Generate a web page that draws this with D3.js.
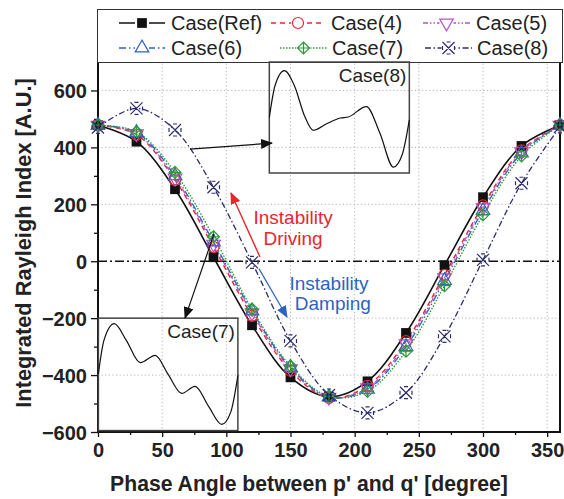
<!DOCTYPE html>
<html>
<head>
<meta charset="utf-8">
<script src="https://cdn.jsdelivr.net/npm/d3@7"></script>
<style>
  body { margin: 0; background: #fff; }
  svg { display: block; font-family: "Liberation Sans", Arial, sans-serif; }
</style>
</head>
<body>
<div id="graf"></div>
<script>
// datos
const angles = [0, 30, 60, 90, 120, 150, 180, 210, 240, 270, 300, 330, 360];
const caseRef = [478, 420, 253, 14, -225, -408, -476, -422, -252, -14, 225, 405, 478];
const case4 = [478, 445, 285, 50, -192, -385, -480, -438, -281, -48, 196, 390, 478];
const case5 = [478, 448, 292, 60, -182, -378, -478, -445, -290, -58, 188, 385, 478];
const case6 = [478, 452, 300, 68, -175, -373, -477, -450, -300, -68, 178, 380, 478];
const case7 = [478, 455, 312, 86, -168, -368, -475, -457, -316, -86, 163, 370, 478];
const case8 = [470, 537, 461, 260, -4, -280, -470, -533, -462, -264, 5, 274, 472];
const seriesNames = ["Case(Ref)", "Case(4)", "Case(5)", "Case(6)", "Case(7)", "Case(8)"];

const xTicks = [0, 50, 100, 150, 200, 250, 300, 350];
const xMinor = [25, 75, 125, 175, 225, 275, 325];
const yTicks = [-600, -400, -200, 0, 200, 400, 600];
const yMinor = [-500, -300, -100, 100, 300, 500];

// curvas de los recuadros (normalizadas 0..1)
const inset8X = [0, 0.04, 0.107, 0.18, 0.25, 0.314, 0.41, 0.507, 0.564, 0.693, 0.79, 0.886, 0.95, 1];
const inset8Y = [0.50, 0.80, 0.946, 0.80, 0.52, 0.378, 0.44, 0.495, 0.505, 0.604, 0.35, 0.027, 0.15, 0.477];
const inset7X = [0, 0.04, 0.114, 0.2, 0.3, 0.407, 0.5, 0.598, 0.693, 0.79, 0.884, 0.95, 1];
const inset7Y = [0.506, 0.82, 0.976, 0.82, 0.61, 0.679, 0.50, 0.321, 0.387, 0.2, 0.03, 0.15, 0.49];

const W = 564, H = 499;
const margin = { top: 62, right: 4, bottom: 67, left: 98 };

const svg = d3.select("#graf").append("svg").attr("width", W).attr("height", H);

const x = d3.scaleLinear().domain([0, 360]).range([margin.left, W - margin.right]);
const y = d3.scaleLinear().domain([-600, 700]).range([H - margin.bottom, margin.top]);

// rejilla punteada
const grid = svg.append("g").attr("stroke", "#b4b4b4").attr("stroke-width", 1).attr("stroke-dasharray", "1.2,2.4");
grid.selectAll("line.gx").data(xTicks.filter(d => d > 0)).join("line")
  .attr("x1", d => x(d)).attr("x2", d => x(d)).attr("y1", y(-600)).attr("y2", y(700));
grid.selectAll("line.gy").data(yTicks.filter(d => d > -600 && d !== 0)).join("line")
  .attr("x1", x(0)).attr("x2", x(360)).attr("y1", d => y(d)).attr("y2", d => y(d));

// linea de cero
svg.append("line")
  .attr("x1", x(0)).attr("x2", x(360)).attr("y1", y(0)).attr("y2", y(0))
  .attr("stroke", "#111").attr("stroke-width", 1.5).attr("stroke-dasharray", "9,3,2,3");

// ejes
const xAxis = svg.append("g").attr("transform", `translate(0,${y(-600)})`)
  .call(d3.axisBottom(x).tickValues(xTicks).tickSize(5).tickSizeOuter(0).tickPadding(4));
svg.append("g").attr("transform", `translate(0,${y(-600)})`)
  .call(d3.axisBottom(x).tickValues(xMinor).tickSize(3).tickFormat("").tickSizeOuter(0));
const yAxis = svg.append("g").attr("transform", `translate(${x(0)},0)`)
  .call(d3.axisLeft(y).tickValues(yTicks).tickSize(7).tickSizeOuter(0).tickPadding(4));
svg.append("g").attr("transform", `translate(${x(0)},0)`)
  .call(d3.axisLeft(y).tickValues(yMinor).tickSize(4).tickFormat("").tickSizeOuter(0));
svg.selectAll(".domain").remove();
svg.selectAll(".tick line").attr("stroke", "#111").attr("stroke-width", 1.3);
svg.selectAll(".tick text").attr("font-size", 20).attr("font-weight", "bold")
  .attr("fill", "#222").attr("font-family", "'Liberation Sans', Arial, sans-serif");
xAxis.selectAll(".tick text").attr("dy", "0.82em");
yAxis.selectAll(".tick text").attr("dy", "0.36em");

// marco
svg.append("rect")
  .attr("x", x(0)).attr("y", y(700)).attr("width", x(360) - x(0)).attr("height", y(-600) - y(700))
  .attr("fill", "none").attr("stroke", "#111").attr("stroke-width", 2);

// titulos de ejes
svg.append("text").attr("x", 309).attr("y", 491).attr("text-anchor", "middle")
  .attr("font-size", 21.2).attr("font-weight", "bold").attr("fill", "#222")
  .text("Phase Angle between p' and q' [degree]");
svg.append("text").attr("transform", "translate(31,243) rotate(-90)").attr("text-anchor", "middle")
  .attr("font-size", 21.8).attr("font-weight", "bold").attr("fill", "#222")
  .text("Integrated Rayleigh Index [A.U.]");

// estilos de las series
const styles = [
  { values: caseRef, color: "#111111", dash: null, width: 1.6, marker: "square" },
  { values: case4, color: "#e8262d", dash: "5,4", width: 1.4, marker: "circle" },
  { values: case5, color: "#b454c4", dash: "5,2,1.5,2,1.5,2", width: 1.3, marker: "down" },
  { values: case6, color: "#2d63c0", dash: "7,3,1.5,3", width: 1.3, marker: "up" },
  { values: case7, color: "#2f9a3a", dash: "1.5,1.5", width: 1.4, marker: "diamond" },
  { values: case8, color: "#2c2c70", dash: "6,2.5,1.5,2.5", width: 1.3, marker: "star" }
];

const drawMarker = (g, type, color) => {
  if (type === "square") {
    g.append("path").attr("d", d3.symbol(d3.symbolSquare, 95)()).attr("fill", color);
  } else if (type === "circle") {
    g.append("circle").attr("r", 5.5).attr("fill", "none").attr("stroke", color).attr("stroke-width", 1.2);
  } else if (type === "down") {
    g.append("path").attr("d", d3.symbol(d3.symbolTriangle, 80)()).attr("transform", "rotate(180)")
      .attr("fill", "none").attr("stroke", color).attr("stroke-width", 1.2);
  } else if (type === "up") {
    g.append("path").attr("d", d3.symbol(d3.symbolTriangle, 80)())
      .attr("fill", "none").attr("stroke", color).attr("stroke-width", 1.2);
  } else if (type === "diamond") {
    g.append("path").attr("d", "M0,-6L6,0L0,6L-6,0Z M0,-6L0,6 M-6,0L6,0")
      .attr("fill", "none").attr("stroke", color).attr("stroke-width", 1.2);
  } else if (type === "star") {
    g.append("path").attr("d", "M-6,-6L6,6 M-6,6L6,-6 M-2,-6L2,-6 M-2,6L2,6 M-6,-2L-6,2 M6,-2L6,2")
      .attr("fill", "none").attr("stroke", color).attr("stroke-width", 1.2);
  }
};

const line = d3.line().x((d, i) => x(angles[i])).y(d => y(d)).curve(d3.curveCatmullRom.alpha(0.5));

styles.forEach((s) => {
  svg.append("path").datum(s.values).attr("d", line)
    .attr("fill", "none").attr("stroke", s.color).attr("stroke-width", s.width)
    .attr("stroke-dasharray", s.dash);
});
styles.forEach((s) => {
  svg.append("g").selectAll("g").data(s.values).join("g")
    .attr("transform", (d, i) => `translate(${x(angles[i])},${y(d)})`)
    .each(function () { drawMarker(d3.select(this), s.marker, s.color); });
});

// leyenda
svg.append("rect").attr("x", 97.5).attr("y", 9.5).attr("width", 465).attr("height", 53)
  .attr("fill", "#fff").attr("stroke", "#333").attr("stroke-width", 1);
const legendPos = [
  { lx: 119, len: 46, tx: 171, ty: 30 },
  { lx: 271, len: 54, tx: 331, ty: 30 },
  { lx: 423, len: 47, tx: 476, ty: 30 },
  { lx: 119, len: 46, tx: 171, ty: 55 },
  { lx: 280, len: 47, tx: 332, ty: 55 },
  { lx: 425, len: 47, tx: 477, ty: 55 }
];
styles.forEach((s, i) => {
  const p = legendPos[i];
  const gy = p.ty - 7;
  svg.append("line").attr("x1", p.lx).attr("x2", p.lx + p.len).attr("y1", gy).attr("y2", gy)
    .attr("stroke", s.color).attr("stroke-width", s.width).attr("stroke-dasharray", s.dash);
  const g = svg.append("g").attr("transform", `translate(${p.lx + p.len / 2},${gy})`);
  g.append("rect").attr("x", -7).attr("y", -7).attr("width", 14).attr("height", 14).attr("fill", "#fff");
  drawMarker(g, s.marker, s.color);
  svg.append("text").attr("x", p.tx).attr("y", p.ty).attr("font-size", 20).attr("fill", "#222")
    .text(seriesNames[i]);
});

// recuadros con las curvas de Case(8) y Case(7)
const insets = [
  { xs: inset8X, ys: inset8Y, x0: 133.5, x1: 242.6, y0: 310, y1: 700, label: "Case(8)" },
  { xs: inset7X, ys: inset7Y, x0: 0.3, x1: 109, y0: -595, y1: -200, label: "Case(7)" }
];
insets.forEach((b) => {
  const ix = d3.scaleLinear().domain([0, 1]).range([x(b.x0), x(b.x1)]);
  const iy = d3.scaleLinear().domain([0, 1]).range([y(b.y0) - 3, y(b.y1) + 3]);
  svg.append("rect").attr("x", x(b.x0)).attr("y", y(b.y1)).attr("width", x(b.x1) - x(b.x0))
    .attr("height", y(b.y0) - y(b.y1)).attr("fill", "none").attr("stroke", "#444").attr("stroke-width", 1.5);
  svg.append("path").datum(b.ys)
    .attr("d", d3.line().x((d, i) => ix(b.xs[i])).y(d => iy(d)).curve(d3.curveMonotoneX))
    .attr("fill", "none").attr("stroke", "#111").attr("stroke-width", 1.2);
  svg.append("text").attr("x", x(b.x1) - 3).attr("y", y(b.y1) + 20).attr("text-anchor", "end")
    .attr("font-size", 19).attr("fill", "#222").text(b.label);
});

// flechas
const defs = svg.append("defs");
const mk = (id, color) => defs.append("marker").attr("id", id).attr("viewBox", "0 0 12 10")
  .attr("refX", 11).attr("refY", 5).attr("markerWidth", 12).attr("markerHeight", 10)
  .attr("markerUnits", "userSpaceOnUse").attr("orient", "auto")
  .append("path").attr("d", "M0,0L12,5L0,10Z").attr("fill", color);
mk("ab", "#111"); mk("ar", "#e8262d"); mk("au", "#2d63c0");

const arrows = [
  { a: [71.7, 394], b: [135.6, 415], color: "#111", m: "ab", w: 1.2 },
  { a: [90.4, 96], b: [67.8, -200], color: "#111", m: "ab", w: 1.2 },
  { a: [126.2, 15], b: [103.6, 240], color: "#e8262d", m: "ar", w: 1.4 },
  { a: [125.5, -27], b: [147.3, -196], color: "#2d63c0", m: "au", w: 1.2 }
];
arrows.forEach((d) => {
  svg.append("line").attr("x1", x(d.a[0])).attr("y1", y(d.a[1])).attr("x2", x(d.b[0])).attr("y2", y(d.b[1]))
    .attr("stroke", d.color).attr("stroke-width", d.w).attr("marker-end", `url(#${d.m})`);
});

// anotaciones
const notes = [
  { t: "Instability", ang: 152, val: 130, color: "#e8262d" },
  { t: "Driving", ang: 152, val: 57, color: "#e8262d" },
  { t: "Instability", ang: 180, val: -100, color: "#2d63c0" },
  { t: "Damping", ang: 183, val: -172, color: "#2d63c0" }
];
notes.forEach((n) => {
  svg.append("text").attr("x", x(n.ang)).attr("y", y(n.val)).attr("text-anchor", "middle")
    .attr("font-size", 19).attr("fill", n.color).text(n.t);
});
</script>
</body>
</html>
